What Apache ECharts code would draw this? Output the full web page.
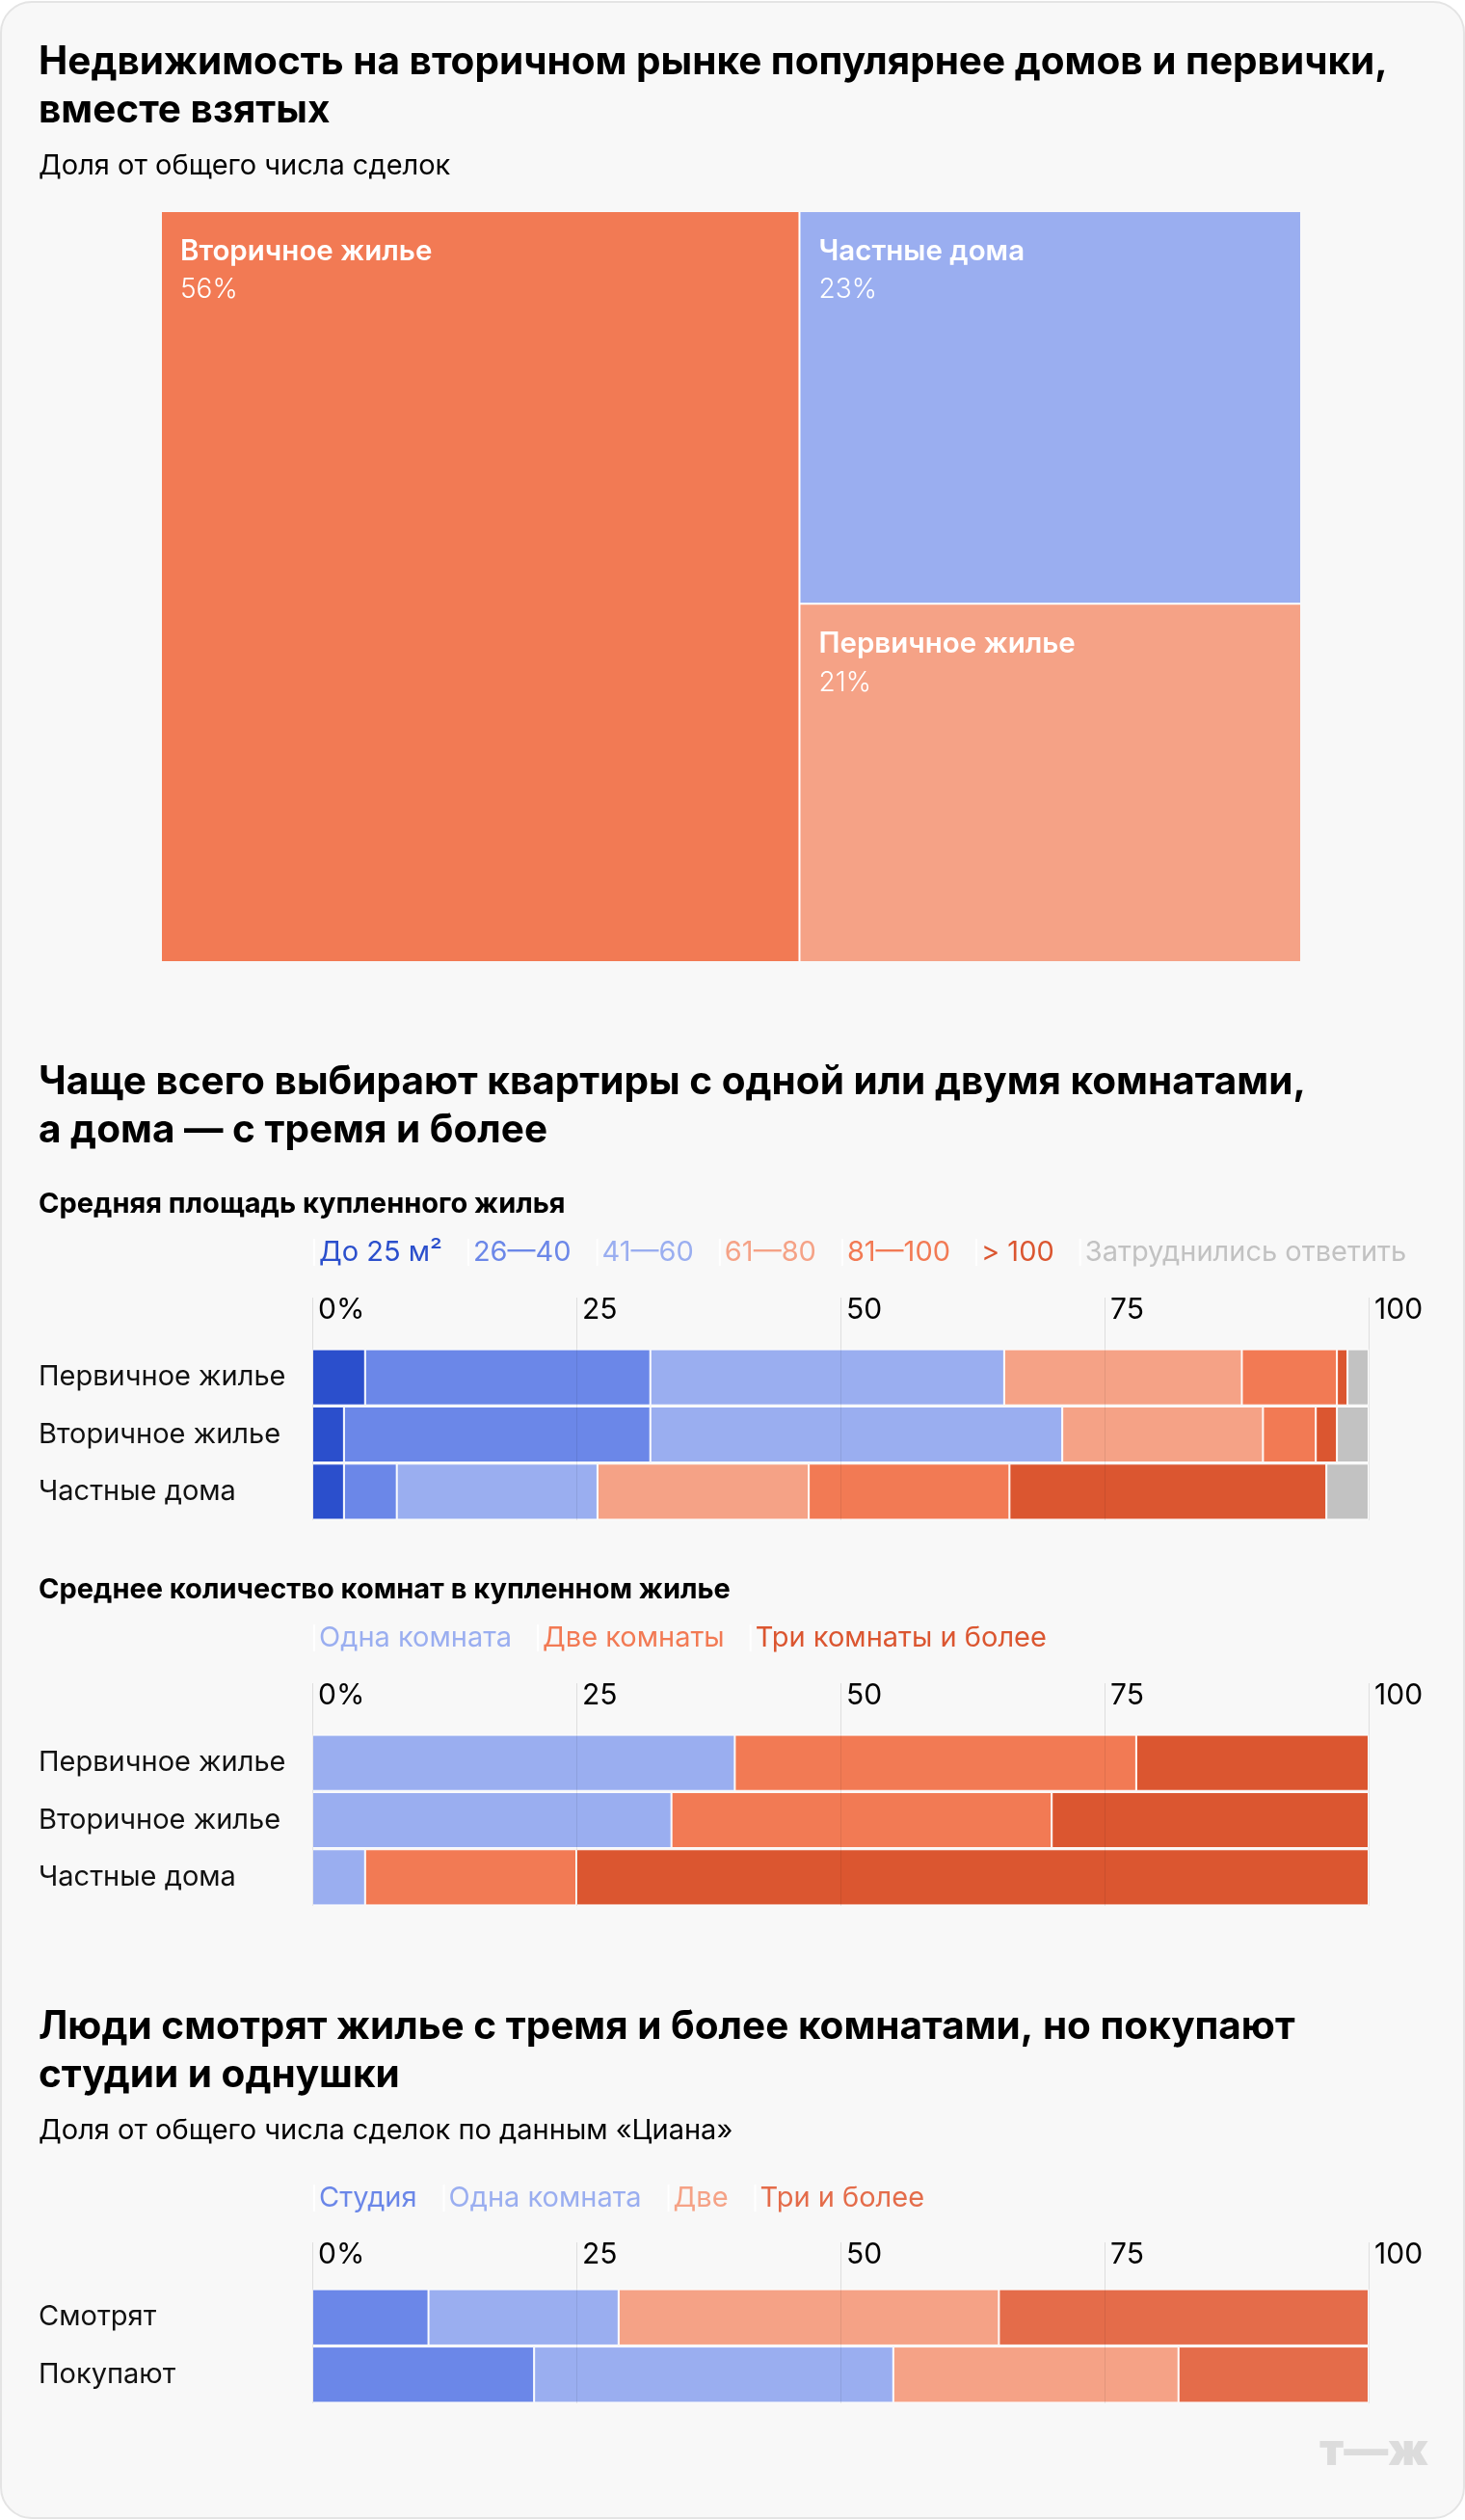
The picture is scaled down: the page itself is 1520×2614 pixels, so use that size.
<!DOCTYPE html>
<html>
<head>
<meta charset="utf-8">
<script src="https://cdn.jsdelivr.net/npm/echarts@6/dist/echarts.min.js"></script>
<style>
  html, body { margin: 0; padding: 0; background: #ffffff; }
  #chart { width: 1520px; height: 2614px; }
</style>
</head>
<body>
<div id="chart"></div>
<script>
// ---------- DATA ----------
const treemapNames = ['Вторичное жилье', 'Частные дома', 'Первичное жилье'];
const treemapValues = [56, 23, 21];

const tickLabels = ['0%', '25', '50', '75', '100'];

// Chart 1: average area of purchased housing
const areaCategories = ['Первичное жилье', 'Вторичное жилье', 'Частные дома'];
const areaGroups = ['До 25 м²', '26—40', '41—60', '61—80', '81—100', '> 100', 'Затруднились ответить'];
const areaPrimary = [5, 27, 33.5, 22.5, 9, 1, 2];
const areaSecondary = [3, 29, 39, 19, 5, 2, 3];
const areaHouses = [3, 5, 19, 20, 19, 30, 4];

// Chart 2: number of rooms in purchased housing
const roomCategories = ['Первичное жилье', 'Вторичное жилье', 'Частные дома'];
const roomGroups = ['Одна комната', 'Две комнаты', 'Три комнаты и более'];
const roomPrimary = [40, 38, 22];
const roomSecondary = [34, 36, 30];
const roomHouses = [5, 20, 75];

// Chart 3: watch vs buy (Cian)
const cianCategories = ['Смотрят', 'Покупают'];
const cianGroups = ['Студия', 'Одна комната', 'Две', 'Три и более'];
const cianWatch = [11, 18, 36, 35];
const cianBuy = [21, 34, 27, 18];

// ---------- STYLE ----------
const FONT = 'Inter, Roboto, "Noto Sans", sans-serif';
const areaColors = ['#2B4FCC', '#6B87E8', '#9AAEF0', '#F5A286', '#F27A54', '#DB5630', '#C2C2C2'];
const roomColors = ['#9AAEF0', '#F27A54', '#DB5630'];
const cianColors = ['#6B87E8', '#9AAEF0', '#F5A286', '#E46C4A'];
const treemapColors = ['#F27A54', '#9AAEF0', '#F5A286'];

const chart = echarts.init(document.getElementById('chart'), null, { renderer: 'canvas' });

function xAxisFor(gridIndex, tickLen, labelMargin) {
  return {
    gridIndex, type: 'value', min: 0, max: 100, interval: 25, position: 'top', z: 5,
    axisLine: { show: false },
    axisTick: { show: true, length: tickLen, lineStyle: { color: '#dedede', width: 1 } },
    splitLine: { show: true, lineStyle: { color: 'rgba(0,0,0,0.08)', width: 1 } },
    axisLabel: {
      formatter: v => tickLabels[Math.round(v / 25)],
      align: 'left', verticalAlign: 'bottom', margin: labelMargin,
      padding: [0, 0, 0, 6], fontSize: 30, lineHeight: 30, color: '#000', fontFamily: FONT
    }
  };
}
function yAxisFor(gridIndex, cats) {
  return {
    gridIndex, type: 'category', data: cats, inverse: true,
    axisLine: { show: false }, axisTick: { show: false },
    axisLabel: { align: 'left', margin: 284, fontSize: 29, color: '#111', fontFamily: FONT }
  };
}
function legendFor(top, names, colors, gap) {
  return {
    top, left: 325, padding: 0, orient: 'horizontal', selectedMode: false,
    itemWidth: 0, itemHeight: 28, itemGap: gap, icon: 'rect',
    textStyle: { fontSize: 29, fontFamily: FONT },
    data: names.map((n, i) => ({ name: n, textStyle: { color: colors[i], fontSize: 29, fontFamily: FONT } }))
  };
}
function stackedSeries(groups, colors, rows, axisIdx, stackName) {
  return groups.map((g, i) => ({
    type: 'bar', name: g, stack: stackName, xAxisIndex: axisIdx, yAxisIndex: axisIdx,
    barCategoryGap: '2%',
    itemStyle: { color: colors[i], borderColor: 'rgba(255,255,255,0.95)', borderWidth: 1 },
    emphasis: { disabled: true },
    data: rows.map(r => r[i])
  }));
}

function title(text, top, size, weight, lh) {
  return {
    text, top, left: 40, padding: 0,
    textStyle: { color: '#000', fontFamily: FONT, fontSize: size, fontWeight: weight, lineHeight: lh }
  };
}

const option = {
  animation: false,
  backgroundColor: '#ffffff',
  graphic: [
    { type: 'rect', z: -10, shape: { x: 1, y: 2, width: 1518, height: 2610, r: 32 },
      style: { fill: '#f8f8f8', stroke: '#e4e4e4', lineWidth: 2 } },
    { type: 'text', z: 10, right: 38, top: 2520,
      style: { text: 'т—ж', fill: '#dcdcdc', font: '900 46px ' + FONT } }
  ],
  title: [
    title('Недвижимость на вторичном рынке популярнее домов и первички,\nвместе взятых', 40, 40.5, 'bold', 50),
    title('Доля от общего числа сделок', 155, 29, 'normal', 34),
    title('Чаще всего выбирают квартиры с одной или двумя комнатами,\nа дома — с тремя и более', 1098, 40.5, 'bold', 50),
    title('Средняя площадь купленного жилья', 1232, 29, 'bold', 34),
    title('Среднее количество комнат в купленном жилье', 1632, 29, 'bold', 34),
    title('Люди смотрят жилье с тремя и более комнатами, но покупают\nстудии и однушки', 2078, 40.5, 'bold', 50),
    title('Доля от общего числа сделок по данным «Циана»', 2193, 29, 'normal', 34)
  ],
  legend: [
    legendFor(1284, areaGroups, areaColors, 26),
    legendFor(1684, roomGroups, roomColors, 26),
    legendFor(2265, cianGroups, cianColors, 27)
  ],
  grid: [
    { left: 324, width: 1096, top: 1399, height: 178 },
    { left: 324, width: 1096, top: 1799, height: 178 },
    { left: 324, width: 1096, top: 2374, height: 119 }
  ],
  xAxis: [xAxisFor(0, 53, 25), xAxisFor(1, 53, 25), xAxisFor(2, 48, 20)],
  yAxis: [yAxisFor(0, areaCategories), yAxisFor(1, roomCategories), yAxisFor(2, cianCategories)],
  series: [
    {
      type: 'treemap', left: 168, top: 220, width: 1181, height: 777,
      roam: false, nodeClick: false, breadcrumb: { show: false },
      squareRatio: 1,
      emphasis: { disabled: true },
      itemStyle: { borderWidth: 0, gapWidth: 2, borderColor: '#ffffff' },
      levels: [{ itemStyle: { gapWidth: 2, borderWidth: 0, borderColor: '#ffffff' } }],
      label: {
        show: true, position: 'insideTopLeft', distance: 0, padding: [21, 0, 0, 19],
        formatter: p => '{n|' + p.name + '}\n{v|' + p.value + '%}',
        rich: {
          n: { fontSize: 29.5, fontWeight: 600, color: '#fff', lineHeight: 40, fontFamily: FONT },
          v: { fontSize: 28, fontWeight: 300, color: '#fff', lineHeight: 40, fontFamily: FONT }
        }
      },
      data: treemapNames.map((n, i) => ({ name: n, value: treemapValues[i], itemStyle: { color: treemapColors[i] } }))
    },
    ...stackedSeries(areaGroups, areaColors, [areaPrimary, areaSecondary, areaHouses], 0, 'area'),
    ...stackedSeries(roomGroups, roomColors, [roomPrimary, roomSecondary, roomHouses], 1, 'rooms'),
    ...stackedSeries(cianGroups, cianColors, [cianWatch, cianBuy], 2, 'cian')
  ]
};
chart.setOption(option);
</script>
</body>
</html>
